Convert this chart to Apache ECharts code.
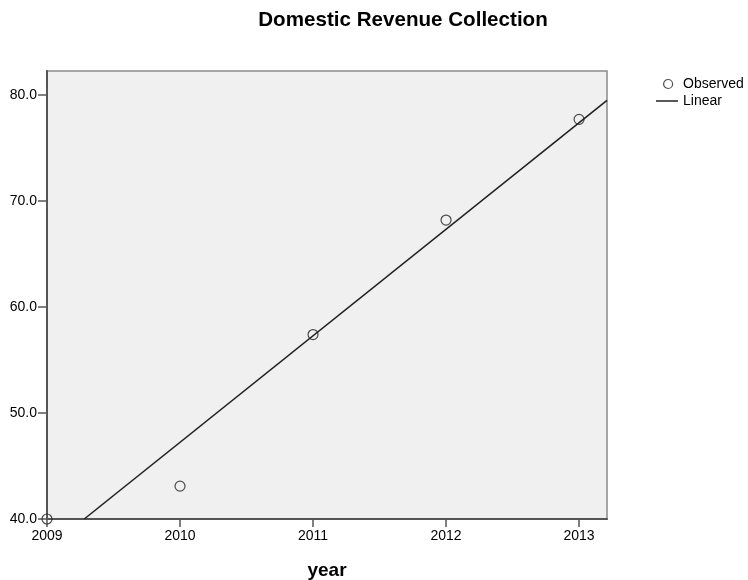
<!DOCTYPE html>
<html>
<head>
<meta charset="utf-8">
<script src="https://cdn.jsdelivr.net/npm/echarts@6/dist/echarts.min.js"></script>
<style>
  html, body { margin: 0; padding: 0; background: #fff; }
  #chart { width: 748px; height: 580px; }
</style>
</head>
<body>
<div id="chart"></div>
<script>
// Observed values by year
const years = [2009, 2010, 2011, 2012, 2013];
const observed = [40.0, 43.1, 57.4, 68.2, 77.7];
// Fitted linear trend, endpoints where it meets the plot frame
const linearX = [2009.28, 2013.21];
const linearY = [40.0, 79.5];
// Axis tick values
const xTicks = [2009, 2010, 2011, 2012, 2013];
const yTicks = [40, 50, 60, 70, 80];

const font = '"Liberation Sans", Arial, sans-serif';
const chart = echarts.init(document.getElementById('chart'));

chart.setOption({
  animation: false,
  title: {
    text: 'Domestic Revenue Collection',
    left: 398, top: 5, textAlign: 'center',
    textStyle: { fontFamily: font, fontSize: 20.6, fontWeight: 'bold', color: '#000' }
  },
  legend: [
    {
      data: [{ name: 'Observed', icon: 'circle',
               itemStyle: { color: 'transparent', borderColor: '#222', borderWidth: 1.2 } }],
      left: 658, top: 72, itemWidth: 10, itemHeight: 9,
      textStyle: { fontFamily: font, fontSize: 14, color: '#000', padding: [0, 0, 0, 5] }
    },
    {
      data: [{ name: 'Linear', icon: 'rect' }],
      left: 651, top: 89, itemWidth: 22, itemHeight: 1.5,
      textStyle: { fontFamily: font, fontSize: 14, color: '#000' }
    }
  ],
  grid: {
    left: 47, right: 141, top: 71, bottom: 61,
    outerBoundsMode: 'none', containLabel: false,
    show: true, backgroundColor: '#f0f0f0', borderColor: '#8a8a8a', borderWidth: 1.5
  },
  xAxis: {
    type: 'value', min: 2009, max: 2013.21, interval: 1,
    name: 'year', nameLocation: 'middle', nameGap: 42,
    nameTextStyle: { fontFamily: font, fontSize: 19, fontWeight: 'bold', color: '#000' },
    splitLine: { show: false },
    axisLine: { show: true, onZero: false, lineStyle: { color: '#555', width: 2 } },
    axisTick: { show: true, length: 8, customValues: xTicks, lineStyle: { color: '#555', width: 1.5 } },
    axisLabel: { customValues: xTicks, margin: 10, fontFamily: font, fontSize: 14, color: '#000',
                 formatter: v => String(v) }
  },
  yAxis: {
    type: 'value', min: 40, max: 82.26, interval: 10,
    splitLine: { show: false },
    axisLine: { show: true, onZero: false, lineStyle: { color: '#555', width: 2 } },
    axisTick: { show: true, length: 9, customValues: yTicks, lineStyle: { color: '#555', width: 1.5 } },
    axisLabel: { customValues: yTicks, margin: 10, fontFamily: font, fontSize: 14, color: '#000',
                 formatter: v => v.toFixed(1) }
  },
  series: [
    {
      name: 'Linear', type: 'line',
      data: linearX.map((x, i) => [x, linearY[i]]),
      showSymbol: false, symbol: 'none',
      lineStyle: { color: '#222', width: 1.6 },
      itemStyle: { color: '#222' },
      z: 2
    },
    {
      name: 'Observed', type: 'scatter',
      data: years.map((y, i) => [y, observed[i]]),
      symbol: 'circle', symbolSize: 10, clip: false,
      itemStyle: { color: 'transparent', borderColor: '#222', borderWidth: 1.2 },
      z: 3
    }
  ]
});
</script>
</body>
</html>
